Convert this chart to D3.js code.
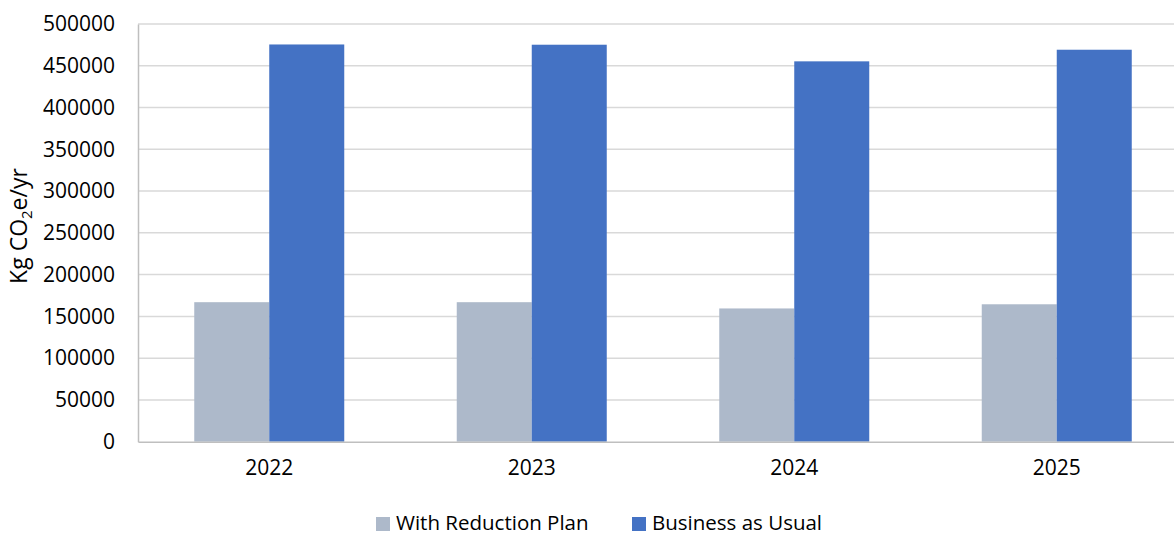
<!DOCTYPE html>
<html>
<head>
<meta charset="utf-8">
<script src="https://cdn.jsdelivr.net/npm/d3@7/dist/d3.min.js"></script>
<style>
  html, body { margin: 0; padding: 0; background: #fff; }
  svg { display: block; }
  text { font-family: "Open Sans", "Liberation Sans", sans-serif; fill: #000; }
</style>
</head>
<body>
<svg id="chart" width="1174" height="536"></svg>
<script>
// Annual emissions, kg CO2e per year
const years = ["2022", "2023", "2024", "2025"];
const withReductionPlan = [167000, 167000, 159500, 164500];
const businessAsUsual = [475500, 475200, 455300, 469200];
const seriesNames = ["With Reduction Plan", "Business as Usual"];
const seriesColors = ["#adb9ca", "#4472c4"];
const yTicks = [0, 50000, 100000, 150000, 200000, 250000, 300000, 350000, 400000, 450000, 500000];

const svg = d3.select("#chart");
const margin = { left: 138, top: 24 };
const plotW = 1050, plotH = 417.7;

const x = d3.scaleBand().domain(years).range([margin.left, margin.left + plotW]).paddingInner(0).paddingOuter(0);
// two bars of width w, gap 1.5w per category
const barW = x.bandwidth() / 3.5;
const xs = d3.scaleBand().domain(seriesNames).range([0, 2 * barW]);
const y = d3.scaleLinear().domain([0, 500000]).range([margin.top + plotH, margin.top]);

// gridlines
svg.append("g")
  .selectAll("line")
  .data(yTicks.filter(d => d > 0))
  .join("line")
  .attr("x1", margin.left).attr("x2", margin.left + plotW)
  .attr("y1", d => y(d)).attr("y2", d => y(d))
  .attr("stroke", "#d9d9d9").attr("stroke-width", 1.5);

// y axis
const yAxis = d3.axisLeft(y).tickValues(yTicks).tickFormat(d3.format("d")).tickSize(0).tickPadding(23);
const gy = svg.append("g").attr("transform", `translate(${margin.left},0)`).call(yAxis);
gy.select(".domain").attr("stroke", "#bfbfbf").attr("stroke-width", 1.5);
gy.selectAll("text").style("font-size", "21px").style("font-family", "'Open Sans', sans-serif").attr("fill", "#000");

// bars
const rows = years.map((yr, i) => ({ year: yr, values: [withReductionPlan[i], businessAsUsual[i]] }));
const groups = svg.append("g").selectAll("g")
  .data(rows)
  .join("g")
  .attr("transform", d => `translate(${x(d.year) + (x.bandwidth() - 2 * barW) / 2},0)`);
groups.selectAll("rect")
  .data(d => d.values.map((v, k) => ({ name: seriesNames[k], value: v, color: seriesColors[k] })))
  .join("rect")
  .attr("x", d => xs(d.name))
  .attr("width", xs.bandwidth())
  .attr("y", d => y(d.value))
  .attr("height", d => y(0) - y(d.value))
  .attr("fill", d => d.color);

// x axis
const xAxis = d3.axisBottom(x).tickSize(0).tickPadding(18);
const gx = svg.append("g").attr("transform", `translate(0,${y(0)})`).call(xAxis);
gx.select(".domain").attr("stroke", "#bfbfbf").attr("stroke-width", 1.5);
gx.selectAll("text").style("font-size", "21px").style("font-family", "'Open Sans', sans-serif").attr("fill", "#000");

// y axis title
const title = svg.append("text")
  .attr("transform", `translate(27,226) rotate(-90)`)
  .attr("text-anchor", "middle")
  .style("font-size", "23px");
title.append("tspan").text("Kg CO");
title.append("tspan").text("2").style("font-size", "15px").attr("dy", 5);
title.append("tspan").text("e/yr").attr("dy", -5);

// legend
const legendItems = [
  { name: seriesNames[0], color: seriesColors[0], x: 376 },
  { name: seriesNames[1], color: seriesColors[1], x: 632 }
];
const lg = svg.append("g").selectAll("g").data(legendItems).join("g")
  .attr("transform", d => `translate(${d.x},517)`);
lg.append("rect").attr("width", 14).attr("height", 14).attr("fill", d => d.color);
lg.append("text").attr("x", 20).attr("y", 13).style("font-size", "20.5px").text(d => d.name);
</script>
</body>
</html>
